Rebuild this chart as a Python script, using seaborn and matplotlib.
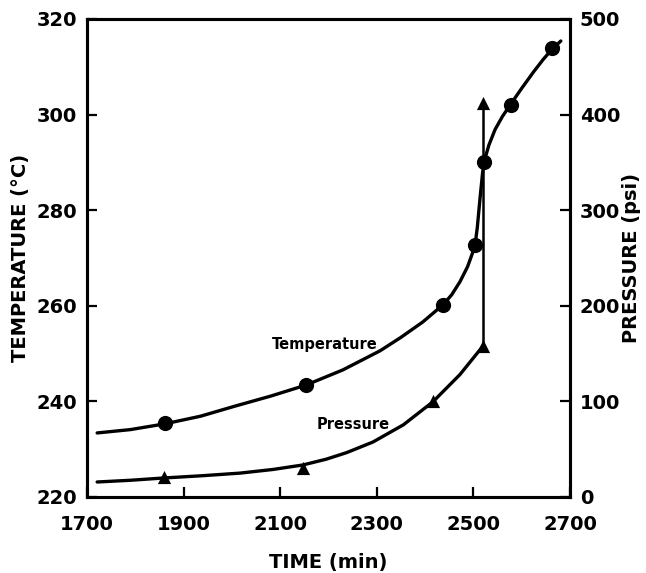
import matplotlib
matplotlib.use("Agg")
import matplotlib.pyplot as plt
import seaborn as sns

# Temperature readings (circles)
temp_time = [1861, 2153, 2437, 2503, 2522, 2578, 2663]
temp_value = [235.4, 243.4, 260.2, 272.7, 290.1, 302.0, 313.9]

# Pressure readings (triangles)
pres_time = [1859, 2147, 2416, 2520]
pres_value = [21, 30, 100, 158]

# Trend curve drawn through the temperature readings
temp_curve_time = [1721, 1790, 1861, 1935, 2006, 2080, 2153, 2230, 2307, 2350,
                   2395, 2437, 2455, 2472, 2488, 2503, 2508, 2514, 2519, 2522,
                   2532, 2545, 2560, 2578, 2600, 2625, 2645, 2663, 2681]
temp_curve_value = [233.4, 234.1, 235.3, 236.9, 239.0, 241.1, 243.4, 246.6, 250.6, 253.4,
                    256.6, 260.2, 262.3, 265.0, 268.2, 272.4, 276.3, 282.8, 287.8, 290.1,
                    293.6, 296.9, 299.6, 302.3, 305.5, 309.0, 311.6, 313.7, 315.4]

# Trend curve drawn through the pressure readings
pres_curve_time = [1721, 1790, 1859, 1940, 2017, 2085, 2147, 2195, 2238, 2292,
                   2355, 2416, 2472, 2520]
pres_curve_value = [15.7, 17.5, 19.9, 22.3, 25.0, 28.8, 33.5, 39.5, 46.5, 57.5,
                    75.5, 99.5, 128.0, 158.0]

# Pressure jump at the end of the run
jump_time = [2520, 2520]
jump_value = [158, 412]

x_ticks = [1700, 1900, 2100, 2300, 2500, 2700]
temp_ticks = [220, 240, 260, 280, 300, 320]
pres_ticks = [0, 100, 200, 300, 400, 500]

sns.set_style("white")
ink = "black"
plt.rcParams.update({
    "font.family": ["DejaVu Sans"],
    "text.color": ink,
    "axes.labelcolor": ink,
    "xtick.color": ink,
    "ytick.color": ink,
    "axes.edgecolor": ink,
})

fig = plt.figure(figsize=(6.46, 5.73), dpi=100)
ax = fig.add_axes([87 / 646, 76 / 573, 483 / 646, 478 / 573])
ax2 = ax.twinx()

# temperature
sns.lineplot(x=temp_curve_time, y=temp_curve_value, ax=ax, color=ink, linewidth=2.4,
             estimator=None, sort=False)
sns.scatterplot(x=temp_time, y=temp_value, ax=ax, color=ink, marker="o", s=120,
                linewidth=0, zorder=5)

# pressure
sns.lineplot(x=pres_curve_time, y=pres_curve_value, ax=ax2, color=ink, linewidth=2.4,
             estimator=None, sort=False)
sns.lineplot(x=jump_time, y=jump_value, ax=ax2, color=ink, linewidth=1.8,
             estimator=None, sort=False)
sns.scatterplot(x=pres_time, y=pres_value, ax=ax2, color=ink, marker="^", s=90,
                linewidth=0, zorder=5)
sns.scatterplot(x=[jump_time[-1]], y=[jump_value[-1]], ax=ax2, color=ink, marker="^",
                s=90, linewidth=0, zorder=5)

ax.set_xlim(1700, 2700)
ax.set_ylim(220, 320)
ax2.set_ylim(0, 500)
ax.set_xticks(x_ticks)
ax.set_yticks(temp_ticks)
ax2.set_yticks(pres_ticks)

tick_font = dict(fontsize=14, fontweight="bold")
ax.set_xticklabels([str(v) for v in x_ticks], **tick_font)
ax.set_yticklabels([str(v) for v in temp_ticks], **tick_font)
ax2.set_yticklabels([str(v) for v in pres_ticks], **tick_font)

ax.tick_params(axis="x", direction="in", length=7, width=1.6, pad=13,
               bottom=True, top=False, colors=ink)
ax.tick_params(axis="y", direction="in", length=7, width=1.6, pad=7,
               left=True, right=False, colors=ink)
ax2.tick_params(axis="y", direction="in", length=7, width=1.6, pad=7,
                right=True, left=False, colors=ink)

for a in (ax, ax2):
    for sp in a.spines.values():
        sp.set_visible(True)
        sp.set_linewidth(2.2)
        sp.set_color(ink)

ax.set_xlabel("TIME (min)", fontsize=14, fontweight="bold")
ax.set_ylabel("TEMPERATURE (\u00b0C)", fontsize=14, fontweight="bold")
ax2.set_ylabel("PRESSURE (psi)", fontsize=14, fontweight="bold")
ax.xaxis.set_label_coords(0.5, -0.118)
ax.yaxis.set_label_coords(-0.118, 0.5)
ax2.yaxis.set_label_coords(1.108, 0.5)

ax.text(2193, 252.0, "Temperature", fontsize=10.5, fontweight="bold",
        ha="center", va="center")
ax.text(2251, 235.1, "Pressure", fontsize=10.5, fontweight="bold",
        ha="center", va="center")

fig.savefig("out.png", dpi=100, facecolor="white")
